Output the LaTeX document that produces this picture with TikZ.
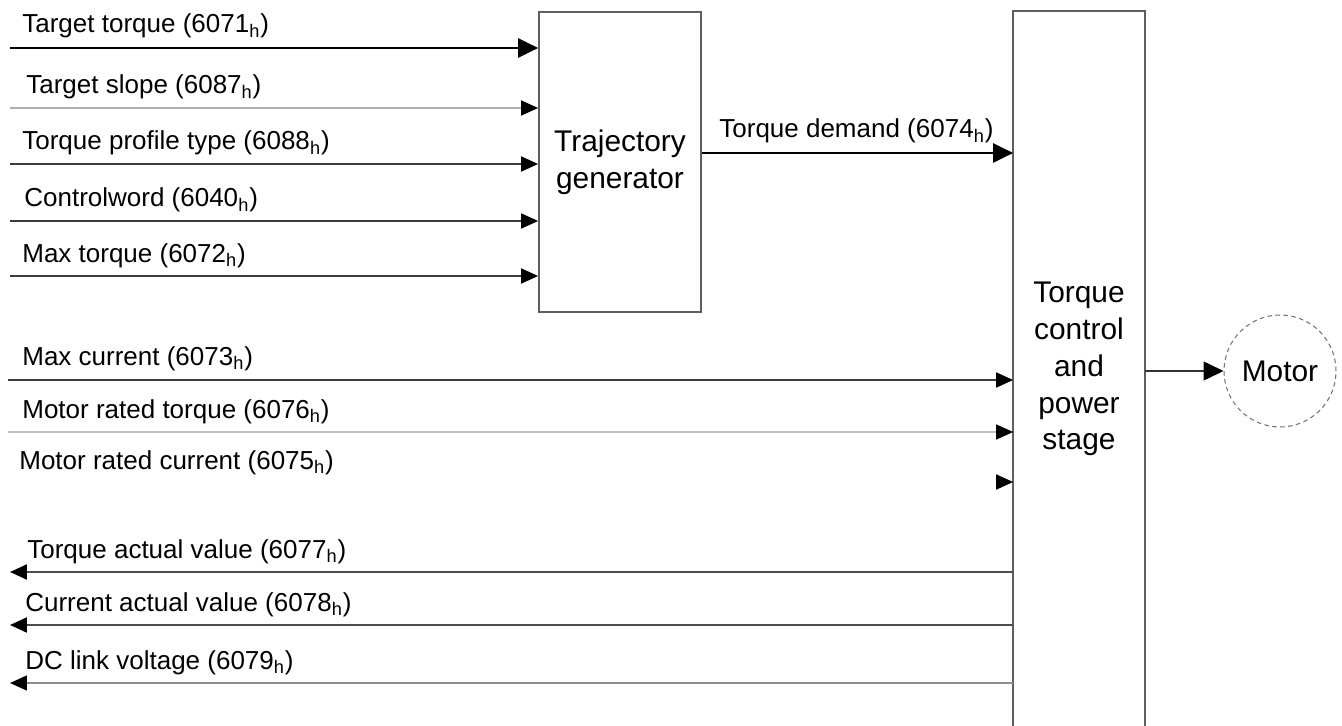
\documentclass[tikz,border=0pt]{standalone}
\usepackage{fontspec}
\setmainfont{Liberation Sans}
\usetikzlibrary{positioning,calc}
\usetikzlibrary{arrows.meta}
\definecolor{EdgeGray}{RGB}{60,60,60}
\definecolor{FaintGray}{RGB}{175,175,175}
\definecolor{BoxGray}{RGB}{95,95,95}
\newcommand{\hx}[1]{(#1\textsubscript{h})}
\tikzset{
  box/.style={draw=BoxGray,line width=1pt,align=center,inner sep=0pt,
    font=\fontsize{17}{21}\selectfont},
  lab/.style={anchor=base west,inner sep=0pt,font=\fontsize{14.8}{17}\selectfont},
  sig/.style={draw=EdgeGray,line width=1pt,-{Triangle[length=0.34cm,width=0.30cm,color=black]}},
  bigsig/.style={draw=black,line width=1.6pt,-{Triangle[length=0.4cm,width=0.38cm]}},
  faint/.style={draw=FaintGray,line width=0.8pt,-{Triangle[length=0.34cm,width=0.30cm,color=black]}},
  motor/.style={circle,draw=black!55,line width=0.6pt,dash pattern=on 0.09cm off 0.07cm,
    minimum size=2.24cm,inner sep=0pt,font=\fontsize{17}{21}\selectfont},
}
\begin{document}
\begin{tikzpicture}[x=0.02cm,y=-0.02cm]
\useasboundingbox (0,0) rectangle (1342,726);
% blocks
\node[box,minimum width=3.24cm,minimum height=6cm] (traj) at (620,162) {Trajectory\\generator};
\node[box,draw=none,minimum width=2.6cm,minimum height=14.28cm] (tcp) at (1079,369) {Torque\\control\\and\\power\\stage};
\draw[draw=BoxGray,line width=1pt] (tcp.south west) -- (tcp.north west) -- (tcp.north east) -- (tcp.south east);
\node[motor] (mot) at (1280,371) {Motor};
% inputs of the trajectory generator
\coordinate (i1) at (10,48);
\coordinate (i2) at (10,108);
\coordinate (i3) at (10,164);
\coordinate (i4) at (10,221);
\coordinate (i5) at (10,276);
\draw[bigsig] (i1) -- (i1 -| traj.west);
\draw[faint] (i2) -- (i2 -| traj.west);
\draw[sig] (i3) -- (i3 -| traj.west);
\draw[sig] (i4) -- (i4 -| traj.west);
\draw[sig] (i5) -- (i5 -| traj.west);
\node[lab] (t1) at (22,33) {Target torque \hx{6071}};
\node[lab] (t2) at (26,94) {Target slope \hx{6087}};
\node[lab] (t3) at (22,150) {Torque profile type \hx{6088}};
\node[lab] (t4) at (24,207) {Controlword \hx{6040}};
\node[lab] (t5) at (22,262) {Max torque \hx{6072}};
% demand
\coordinate (dem) at (860,153);
\draw[bigsig] (traj.east |- dem) -- (tcp.west |- dem);
\node[lab] (tdem) at (719,138) {Torque demand \hx{6074}};
% inputs of the power stage
\coordinate (c1) at (8,380);
\coordinate (c2) at (8,432);
\coordinate (c3) at (995,482);
\draw[sig] (c1) -- (c1 -| tcp.west);
\draw[faint,draw=black!25,line width=0.6pt] (c2) -- (c2 -| tcp.west);
\draw[sig,draw=white] (c3) -- (c3 -| tcp.west);
\node[lab] (t6) at (22,365) {Max current \hx{6073}};
\node[lab] (t7) at (22,418) {Motor rated torque \hx{6076}};
\node[lab] (t8) at (19,469) {Motor rated current \hx{6075}};
% outputs
\coordinate (o1) at (10,572);
\coordinate (o2) at (10,625);
\coordinate (o3) at (10,683);
\draw[sig,line width=1.2pt,draw=black!70] (o1 -| tcp.west) -- (o1);
\draw[sig,line width=1.2pt,draw=black!70] (o2 -| tcp.west) -- (o2);
\draw[sig,line width=0.9pt,draw=black!45] (o3 -| tcp.west) -- (o3);
\node[lab] (t9) at (27,558) {Torque actual value \hx{6077}};
\node[lab] (t10) at (25,611) {Current actual value \hx{6078}};
\node[lab] (t11) at (25,669) {DC link voltage \hx{6079}};
% motor
\draw[draw=black!80,line width=0.9pt,-{Triangle[length=0.4cm,width=0.38cm,color=black]}] (tcp.east |- mot) -- (mot);
\end{tikzpicture}
\end{document}
